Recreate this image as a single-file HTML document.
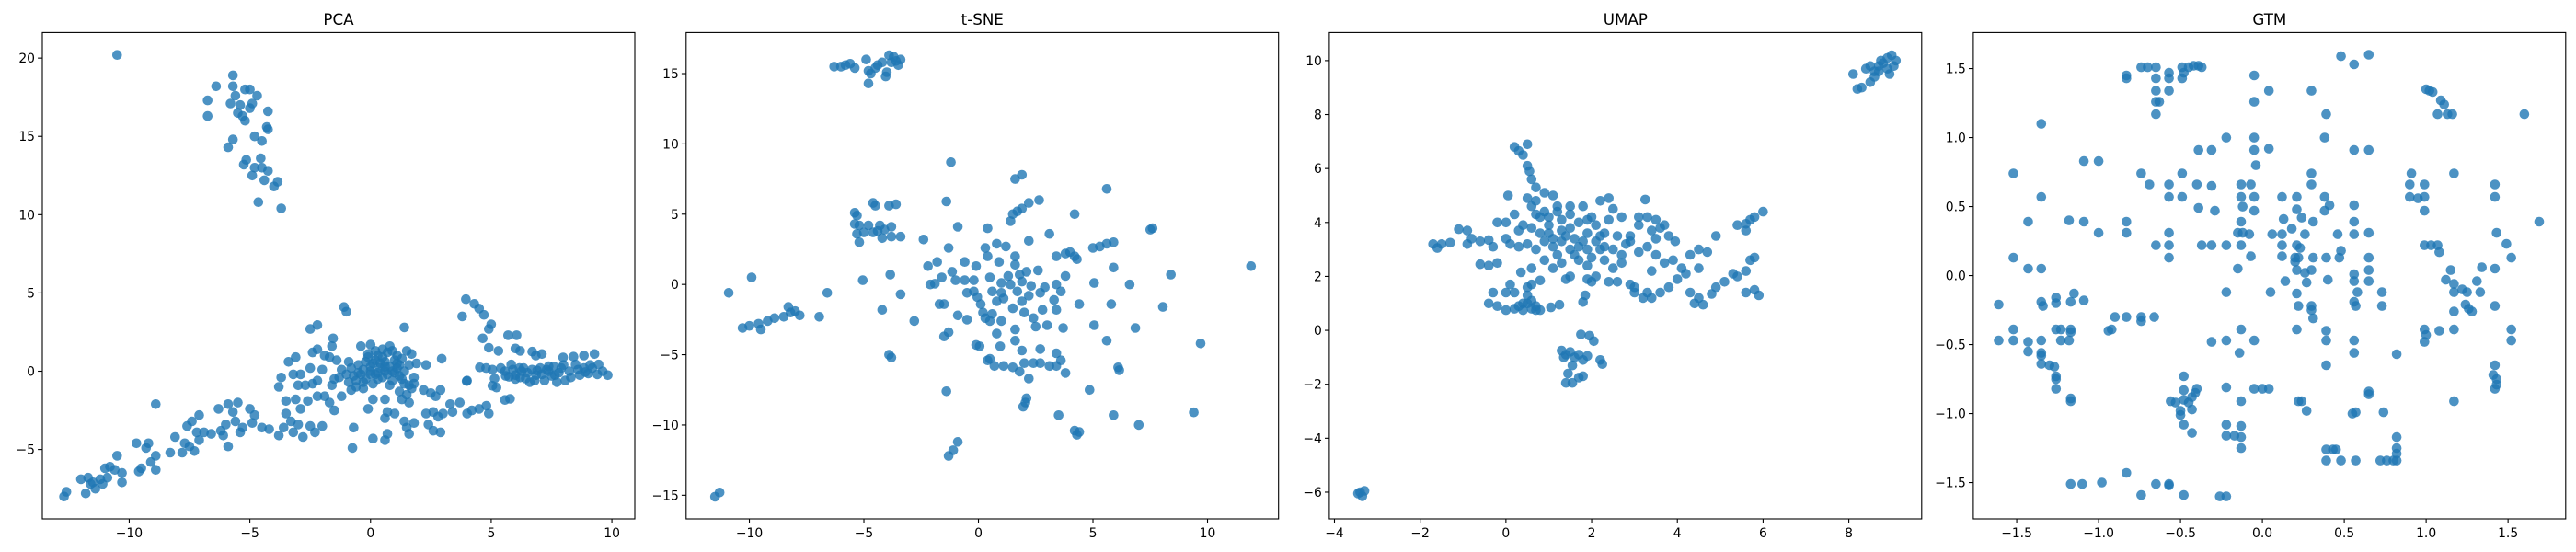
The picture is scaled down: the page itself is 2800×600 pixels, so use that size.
<!DOCTYPE html>
<html><head><meta charset="utf-8"><style>
html,body{margin:0;padding:0;background:#fff;}
svg{display:block;font-family:"DejaVu Sans","Liberation Sans",sans-serif;}
</style></head><body>
<svg id="fig" width="2800" height="600" viewBox="0 0 2800 600" xmlns="http://www.w3.org/2000/svg"></svg>
<script>
// ---------- data ----------
const pcaX=[-10.5,-5.7,-6.4,-6.75,-6.75,-5.7,-5.2,-5.0,-5.6,-4.7,-5.8,-5.4,-4.9,-5.0,-5.5,-5.3,-5.2,-4.25,-4.3,-4.25,-4.8,-4.5,-5.7,-5.9,-4.55,-5.15,-5.25,-4.8,-4.5,-4.25,-4.9,-4.4,-3.85,-4.0,-4.65,-3.7,
3.95,4.3,4.5,4.7,3.8,5.0,4.9,4.65,4.9,5.3,5.7,6.05,6.0,6.2,6.7,7.1,6.85,
4.53,4.79,5.05,5.4,5.57,5.83,6.0,6.26,6.43,6.69,6.86,7.03,7.21,7.38,7.64,7.9,7.98,8.07,8.24,8.5,8.67,8.84,9.02,9.19,9.28,9.45,9.62,9.83,8.41,8.84,7.38,6.34,6.6,5.74,5.14,5.05,5.22,3.98,5.57,5.78,6.17,7.72,6.5,6.9,7.5,7.8,8.3,8.9,9.4,6.2,5.9,7.1,
-0.5,-0.3,0,0.2,0.4,0.6,0.8,1.0,1.2,1.4,-0.2,0.1,0.5,0.9,1.3,-0.7,-0.9,-0.6,-0.3,0.3,0.7,1.1,-0.1,-0.4,0.0,0.8,1.5,1.7,1.9,1.8,2.3,1.6,-1.0,-1.2,-1.5,-1.6,-1.4,-1.7,-1.6,-1.55,-1.9,-2.2,-2.4,0.2,0.5,1.0,-0.8,-0.4,0.3,0.7,1.1,
-1.1,-1.0,-2.5,-2.2,1.4,2.95,-3.4,-3.1,-3.7,-3.8,-3.2,-2.5,-2.9,-2.0,-2.2,-2.4,-3.0,-2.7,-1.9,-1.7,-2.2,-2.6,-3.5,-3.1,-2.9,-1.5,-1.2,-0.7,-0.75,0.1,0.6,0.7,-0.1,0.1,0.6,0.6,0.7,1.0,1.2,1.5,1.3,1.6,1.7,1.8,2.2,2.5,2.9,2.7,2.3,2.6,2.8,3.0,2.4,2.6,2.9,1.4,1.5,1.6,1.8,3.4,3.3,3.7,4.0,4.2,4.5,4.8,4.9,4.0,
-3.5,-3.3,-3.6,-3.8,-3.2,-3.0,-2.8,-2.5,-2.3,-2.0,-4.2,-4.5,-4.9,-5.0,-4.8,-5.3,-5.4,-5.6,-5.7,-5.5,-5.9,-6.0,-6.1,-6.3,-6.2,-5.9,-6.6,-6.9,-7.1,-7.2,-7.1,-7.4,-7.6,-7.7,-7.8,-7.3,-7.5,-8.1,-8.3,-8.9,-8.9,-8.9,-9.1,-9.2,-9.3,-9.5,-9.6,-9.7,-10.3,-10.3,-10.5,-10.6,-10.8,-11.0,-11.1,-11.2,-11.4,-11.6,-11.7,-11.8,-12.0,-12.6,-12.7,-10.9,-11.5,
-0.2,0.1,0.4,0.6,0.9,1.2,0.3,0,-0.3,-0.6,0.5,0.9,1.3,1.6,-0.1,0.2,-0.5,0.8,1.4,-0.8,1.1,0.6,-0.9,-1.3,0.0,6.0,6.8,7.3,8.0,8.6,9.1,7.6,5.6];
const pcaY=[20.2,18.9,18.2,17.3,16.3,18.2,18.0,18.0,17.6,17.6,17.1,17.0,17.1,16.8,16.5,16.3,16.0,16.6,15.6,15.45,15.0,14.7,14.8,14.3,13.6,13.5,13.2,13.0,13.0,12.8,12.5,12.2,12.1,11.8,10.8,10.4,
4.6,4.3,4.0,3.6,3.5,3.0,2.7,2.1,1.5,1.3,2.3,2.3,1.45,1.3,1.25,1.1,1.0,
0.25,0.2,0.1,0.2,0,0.43,-0.25,0,-0.47,0.1,-0.25,0.2,-0.59,0,-0.25,0.2,0.88,-0.59,0,0.43,-0.25,0.2,-0.14,0.2,1.1,0.43,0,-0.25,0.93,1.0,0.32,0.2,-0.7,-0.36,-0.47,-0.93,-1.04,-0.63,-1.83,-1.76,0.2,-0.7,-0.1,0.05,-0.3,-0.1,-0.4,-0.05,-0.2,-0.4,0.1,-0.2,
0.4,0.1,0.3,-0.2,0.5,0,0.3,-0.1,0.4,0,-0.5,-0.8,-0.4,-0.6,-0.5,-0.3,-0.7,-1.0,-1.1,1.0,1.2,1.0,1.1,1.6,1.7,1.6,1.3,1.1,0.5,-0.4,0.4,-0.9,-0.2,0.1,-0.5,-0.9,0.7,0.9,1.6,2.1,1.0,1.4,1.2,0.7,0.9,0.7,0.2,-0.2,-0.1,-0.2,0.2,
4.1,3.8,2.7,2.95,2.8,0.8,0.6,0.9,-0.4,-1.0,-0.2,0.2,-0.2,0.1,-0.6,-0.8,-0.9,-0.9,-1.6,-2.0,-1.6,-1.9,-1.9,-1.8,-2.4,-2.5,-1.6,-3.6,-4.9,-4.3,-4.4,-4.0,-2.4,-1.8,-1.8,-3.0,-2.6,-2.7,-1.3,-1.5,-1.8,-2.0,-1.1,-0.8,-1.2,-1.4,-1.2,-1.6,-2.7,-2.6,-2.9,-2.7,-3.4,-3.8,-3.9,-3.2,-3.6,-4.0,-3.3,-2.6,-2.1,-2.0,-2.7,-2.5,-2.4,-2.2,-2.7,-0.6,
-2.7,-3.2,-3.6,-4.1,-3.9,-3.4,-4.2,-3.5,-3.9,-3.5,-3.7,-3.6,-3.3,-2.4,-2.8,-3.6,-3.9,-3.2,-2.6,-2.0,-2.1,-3.4,-4.1,-2.4,-3.8,-4.8,-4.0,-3.9,-4.4,-3.9,-2.8,-3.2,-3.5,-4.6,-5.2,-5.1,-4.8,-4.2,-5.2,-2.1,-5.4,-6.3,-5.8,-4.6,-4.9,-6.2,-6.4,-4.6,-6.5,-7.1,-5.4,-6.3,-6.1,-6.2,-7.2,-6.9,-7.5,-7.2,-6.8,-7.8,-6.9,-7.7,-8.0,-6.8,-7.1,
0.6,0.5,0.2,0.6,0.0,-0.3,-0.5,-0.2,-0.7,-0.6,1.4,1.3,0.8,0.4,0.9,1.3,-0.1,-0.9,-0.8,-1.2,0.5,0.3,0.6,-0.4,0.0,-0.5,-0.6,0.1,0.4,0.1,0.4,0.3,-0.3];

const tsneX=[-6.3,-6.0,-5.8,-5.6,-5.4,-4.9,-4.8,-4.7,-4.8,-4.5,-4.2,-4.0,-4.05,-3.9,-3.7,-3.8,-3.6,-3.4,-3.5,-4.4,
-9.9,-10.9,-10.3,-10.0,-9.6,-9.5,-9.2,-8.9,-8.5,-8.3,-8.2,-8.0,-7.8,-6.95,-6.6,-11.5,-11.3,
-5.4,-5.3,-5.4,-5.2,-5.0,-5.2,-5.3,-4.8,-4.6,-4.5,-4.6,-4.3,-4.2,-4.1,-3.8,-3.8,-3.9,-3.6,-3.4,-4.4,-5.05,-3.85,-3.4,-4.2,-2.8,-3.9,-3.8,-2.4,-2.2,-1.8,-2.1,-1.9,-1.7,-1.5,-1.6,-1.5,-1.3,-1.4,-1.4,-1.3,-1.2,-1.15,-1.0,-0.9,-0.9,-0.5,-0.6,-0.6,-0.5,-0.2,-0.2,-0.1,-0.1,0.05,-1.3,-1.1,-0.9,0.1,-0.05,0.2,
0.3,0.4,0.4,0.5,0.6,0.6,0.5,0.3,0.8,0.8,0.8,0.9,1.0,1.0,1.0,1.1,1.2,1.3,1.4,1.5,1.6,1.6,1.6,1.7,1.8,1.9,1.9,2.0,2.1,2.2,2.3,2.4,2.5,2.6,2.7,2.8,2.9,3.0,3.3,3.4,3.4,3.6,3.7,3.8,1.6,1.9,1.4,1.5,1.7,1.9,2.2,2.65,2.2,3.1,3.4,3.8,4.0,4.2,4.3,4.2,4.4,5.05,5.05,5.0,5.3,5.6,5.9,5.9,5.6,5.8,5.6,6.6,6.85,7.5,7.6,8.05,8.4,9.7,11.9,6.1,6.15,4.85,5.9,7.0,9.4,4.2,4.3,4.4,3.5,3.8,2.2,2.1,1.95,2.05,1.8,2.0,2.4,2.7,3.1,3.4,3.6,3.4,2.7,1.9,1.6,1.1,0.7,0.5,0.4,0.95,1.5];
const tsneY=[15.5,15.5,15.6,15.7,15.4,16.0,15.2,15.0,14.3,15.4,15.8,15.1,14.8,16.3,16.2,15.8,15.9,16.0,15.6,15.6,
0.5,-0.6,-3.1,-2.95,-2.8,-3.2,-2.6,-2.4,-2.3,-1.6,-2.0,-1.9,-2.2,-2.3,-0.6,-15.1,-14.8,
5.1,4.9,4.3,4.2,3.7,3.0,3.6,4.2,3.7,5.6,5.8,4.2,3.3,3.9,4.1,3.4,5.6,5.7,3.4,3.8,0.3,0.7,-0.7,-1.8,-2.6,-5.0,-5.2,3.2,1.3,1.6,0,0.05,-1.4,-1.4,0.5,-3.7,-3.4,-7.6,5.9,2.6,8.7,0.9,0.3,4.1,-2.2,-2.5,1.6,0.3,-0.6,0.3,-0.5,1.3,-4.3,-4.4,-12.2,-11.8,-11.2,-1.4,-0.9,-2.0,
2.6,2.0,4.0,0.5,-0.5,-2.1,-2.6,-2.4,2.9,-1.2,-3.5,1.6,0.1,-0.6,-2.6,-1.0,2.7,0.6,0,-1.7,2.0,1.4,-3.2,-0.5,0.7,-1.2,0.2,-2.0,0.9,-0.8,-0.1,-2.4,-3.0,1.0,-0.6,-1.8,-0.2,-2.9,-1.1,-1.8,0,-0.5,-3.1,0.6,7.5,7.8,4.5,5.0,5.2,5.4,5.8,6.0,3.1,3.6,2.0,2.2,2.3,2.0,1.8,5.0,-1.4,0.1,-2.9,2.6,2.7,2.9,3.0,1.2,6.8,-1.4,-4.0,0,-3.1,3.9,4.0,-1.6,0.7,-4.2,1.3,-5.9,-6.1,-7.5,-9.3,-10.0,-9.1,-10.4,-10.7,-10.5,-9.3,-6.3,-6.7,-8.1,-8.7,-8.4,-6.2,-5.6,-5.6,-5.6,-5.8,-5.8,-5.4,-4.9,-4.6,-4.7,-4.0,-5.8,-5.8,-5.3,-5.4,-4.4,-5.9];

const umapX=[8.1,8.2,8.3,8.4,8.5,8.6,8.5,8.7,8.8,8.9,9.0,9.1,8.95,9.05,8.75,
-3.45,-3.35,-3.3,-3.4,
1.3,1.4,1.5,1.6,1.7,1.8,1.9,1.55,1.45,1.4,1.55,1.7,1.8,1.75,1.95,2.05,2.2,2.25,1.35,
0.2,0.3,0.4,0.5,0.5,0.55,0.6,0.7,0.9,1.1,0.5,0.6,0.7,0.05,0.9,1.2,1.5,1.8,2.0,2.2,2.4,2.5,2.7,3.1,3.25,3.3,3.5,0.0,-0.2,0.2,0.4,0.6,0.8,1.0,1.3,1.5,1.7,1.9,2.1,2.3,2.6,2.9,3.1,3.4,3.6,3.8,3.95,-1.1,-0.9,-0.8,-0.6,-0.4,-0.3,-0.9,-1.7,-1.5,-1.3,-1.6,0.0,0.1,0.3,0.5,0.7,0.9,1.1,1.3,1.5,1.7,1.9,2.1,2.3,2.5,2.7,2.9,3.1,3.3,3.5,3.7,3.9,4.1,4.3,4.5,4.7,4.9,-0.6,-0.4,-0.2,0.35,0.6,0.9,1.1,1.3,1.5,1.7,1.9,2.1,2.3,2.5,2.7,1.4,1.9,2.0,2.4,2.6,2.9,3.0,3.2,3.4,3.6,3.8,4.0,4.2,4.5,3.4,0.1,0.0,-0.3,-0.4,-0.2,0.0,0.2,0.4,0.5,0.6,0.4,0.7,0.8,0.6,0.8,1.05,1.25,1.8,1.85,4.3,4.4,4.6,4.5,4.8,4.9,5.1,5.3,5.4,5.6,5.7,5.8,5.6,5.8,5.9,5.4,5.6,5.7,5.8,6.0,5.6,0.3,1.2,1.0,1.6,2.2,2.8,
1.0,1.1,1.3,1.5,1.6,1.8,2.0,2.2,0.8,1.2,1.4,0.7,1.9,2.4,3.5,3.7,0.5,0.6,0.3,0.7,0.2,0.5,3.0,3.3,8.7,8.9,8.6];
const umapY=[9.5,8.95,9.0,9.7,9.8,9.4,9.2,9.6,9.9,10.1,10.2,10.0,9.5,9.8,10.0,
-6.05,-6.15,-5.95,-6.0,
-0.75,-0.9,-0.8,-1.0,-0.9,-1.1,-0.95,-1.3,-1.6,-1.95,-1.95,-1.75,-1.7,-0.15,-0.2,-0.4,-1.1,-1.25,-1.0,
6.8,6.65,6.5,6.9,6.1,5.9,5.6,5.3,5.1,5.0,4.9,4.6,4.8,5.0,4.4,4.6,4.6,4.6,4.2,4.8,4.9,4.5,4.2,4.2,4.85,4.2,4.1,4.0,4.0,4.3,3.9,3.8,4.2,3.9,4.1,3.8,4.0,3.6,3.9,3.6,3.5,3.5,3.9,3.7,3.8,3.5,3.3,3.75,3.7,3.4,3.3,3.35,3.1,3.2,3.2,3.2,3.25,3.05,3.4,3.2,3.1,3.2,3.0,3.3,3.1,3.3,3.0,3.1,3.0,3.3,3.1,3.0,2.8,3.3,2.9,3.1,2.8,2.5,2.6,2.3,2.8,3.0,2.9,3.5,2.45,2.4,2.5,2.15,2.3,2.6,2.3,2.5,2.0,2.6,2.4,2.0,2.6,2.3,2.5,1.9,1.9,1.8,1.8,1.8,1.7,1.4,1.2,1.2,1.4,1.6,1.9,2.1,2.3,2.2,1.7,1.4,1.4,1.0,0.9,0.75,0.8,1.0,1.3,0.8,0.75,0.75,0.75,1.7,1.85,0.85,0.95,1.05,1.3,1.4,1.0,0.95,1.2,1.35,1.6,1.8,2.1,2.0,2.2,2.6,2.7,1.4,1.5,1.3,3.9,3.95,4.1,4.2,4.4,3.7,3.7,4.4,3.6,3.4,3.5,3.2,
4.2,3.4,3.7,4.3,2.8,3.3,2.7,3.0,3.6,2.8,3.5,4.3,4.1,4.1,3.4,3.9,1.0,1.1,0.9,0.9,1.4,1.6,1.6,1.4,9.8,9.7,9.6];

const gtmX=[-0.74,-0.7,-0.65,-0.65,-0.65,-0.65,-0.65,-0.63,-0.57,-0.57,-0.57,-0.49,-0.48,-0.49,-0.45,-0.42,-0.39,-0.37,-0.83,-0.83,-0.05,-0.05,0.04,0.3,0.39,0.48,0.56,0.65,1.0,1.02,1.04,1.07,1.09,1.11,1.13,1.16,1.6,-1.35,-0.22,-0.05,0.38,-0.39,-0.31,-0.05,0.04,0.56,0.65,-1.09,-1.0,-0.04,-1.52,-0.74,-0.49,0.3,0.91,1.17,-0.69,-0.57,-0.4,-0.31,-0.13,-0.07,0.3,0.9,0.99,1.42,-1.35,-0.57,-0.49,-0.13,-0.05,0.12,0.21,0.38,0.9,0.95,0.99,1.42,-0.39,-0.29,-0.12,-0.05,0.21,0.24,0.38,0.41,0.56,0.99,-1.43,-1.18,-1.09,-0.83,-0.13,0.13,0.31,0.56,1.69,-1.0,-0.83,-0.57,-0.15,-0.12,-0.08,0.06,0.12,0.18,0.26,0.46,0.56,0.65,1.43,-0.65,-0.57,-0.37,-0.31,-0.22,-0.13,0.12,0.21,0.23,0.99,1.03,1.07,1.08,1.49,-1.52,-0.57,-0.07,0.12,0.2,0.22,0.31,0.39,0.47,0.48,0.65,1.52,-1.43,-1.35,-0.15,0.2,0.21,0.26,0.3,0.56,0.65,1.15,1.34,1.42,0.14,0.27,0.4,0.56,0.65,1.12,1.17,1.31,-1.61,-1.35,-1.34,-1.26,-1.26,-1.15,-1.17,-1.09,-0.22,0.05,0.21,0.58,0.73,1.17,1.25,1.33,1.22,0.22,0.3,0.3,0.31,0.56,0.57,0.73,1.24,1.17,1.26,1.28,1.42,-0.9,-0.83,-0.74,-0.74,-0.66,-1.52,-1.26,-1.23,-1.17,-1.17,-0.92,-0.94,-0.13,0.21,0.39,0.99,1.0,1.08,1.17,1.52,-1.61,-1.52,-1.43,-1.35,-1.23,-1.18,-0.31,-0.22,-0.05,0.39,0.56,0.99,1.52,-1.43,-1.35,-1.35,-0.14,0.56,0.82,-1.35,-1.3,-1.27,-1.26,-1.26,-1.26,0.39,1.42,1.41,1.43,1.43,1.42,-0.48,-0.48,-0.48,-0.4,-0.41,-0.56,-0.53,-0.45,-0.43,-0.5,-0.43,-0.5,-0.48,-0.43,-1.17,-1.17,-0.22,-0.05,0.0,0.04,-0.13,0.22,0.24,0.65,0.65,1.17,0.27,0.55,0.57,0.74,-0.22,-0.13,-0.22,-0.17,-0.13,-0.13,0.39,0.43,0.45,0.39,0.48,0.57,0.72,0.76,0.8,0.82,0.82,0.82,0.82,-0.83,-1.17,-1.1,-0.98,-0.65,-0.57,-0.57,-0.74,-0.48,-0.26,-0.22];
const gtmY=[1.51,1.51,1.51,1.43,1.34,1.26,1.17,1.26,1.47,1.43,1.34,1.51,1.47,1.43,1.51,1.52,1.52,1.51,1.45,1.43,1.45,1.26,1.34,1.34,1.17,1.59,1.53,1.6,1.35,1.34,1.33,1.17,1.27,1.24,1.17,1.17,1.17,1.1,1.0,1.0,1.0,0.91,0.91,0.91,0.92,0.91,0.91,0.83,0.83,0.8,0.74,0.74,0.74,0.74,0.74,0.74,0.66,0.66,0.66,0.65,0.66,0.66,0.66,0.66,0.66,0.66,0.57,0.57,0.57,0.57,0.57,0.57,0.57,0.57,0.57,0.56,0.57,0.57,0.49,0.47,0.5,0.47,0.48,0.42,0.47,0.51,0.51,0.47,0.39,0.4,0.39,0.39,0.39,0.41,0.39,0.39,0.39,0.31,0.31,0.31,0.31,0.31,0.3,0.3,0.3,0.34,0.3,0.3,0.3,0.31,0.31,0.22,0.22,0.22,0.22,0.22,0.22,0.22,0.22,0.2,0.22,0.22,0.22,0.17,0.23,0.13,0.13,0.14,0.14,0.13,0.13,0.13,0.13,0.13,0.18,0.13,0.13,0.05,0.05,0.05,0.1,0.04,0.02,0.04,0.01,0.04,0.04,0.06,0.05,-0.04,-0.05,-0.03,-0.04,-0.04,-0.03,-0.06,-0.04,-0.21,-0.19,-0.22,-0.2,-0.16,-0.13,-0.19,-0.18,-0.12,-0.12,-0.13,-0.12,-0.12,-0.12,-0.12,-0.12,-0.1,-0.22,-0.22,-0.25,-0.31,-0.19,-0.22,-0.22,-0.21,-0.26,-0.24,-0.26,-0.22,-0.3,-0.3,-0.3,-0.33,-0.3,-0.39,-0.39,-0.39,-0.39,-0.41,-0.39,-0.4,-0.39,-0.39,-0.4,-0.39,-0.43,-0.4,-0.39,-0.39,-0.47,-0.47,-0.48,-0.47,-0.47,-0.47,-0.48,-0.47,-0.47,-0.47,-0.47,-0.48,-0.47,-0.55,-0.56,-0.58,-0.56,-0.56,-0.57,-0.64,-0.65,-0.66,-0.73,-0.75,-0.82,-0.65,-0.65,-0.72,-0.75,-0.79,-0.82,-0.73,-0.83,-0.9,-0.82,-0.85,-0.91,-0.92,-0.92,-0.88,-0.98,-0.97,-1.01,-1.08,-1.14,-0.91,-0.89,-0.81,-0.82,-0.82,-0.82,-0.91,-0.91,-0.91,-0.84,-0.86,-0.91,-0.98,-1.0,-0.99,-0.99,-1.08,-1.09,-1.16,-1.16,-1.17,-1.25,-1.26,-1.26,-1.26,-1.34,-1.34,-1.34,-1.34,-1.34,-1.34,-1.34,-1.29,-1.25,-1.17,-1.43,-1.51,-1.51,-1.5,-1.51,-1.51,-1.52,-1.59,-1.59,-1.6,-1.6];

const pcaXTicks=[-10,-5,0,5,10], pcaYTicks=[-5,0,5,10,15,20];
const tsneXTicks=[-10,-5,0,5,10], tsneYTicks=[-15,-10,-5,0,5,10,15];
const umapXTicks=[-4,-2,0,2,4,6,8], umapYTicks=[-6,-4,-2,0,2,4,6,8,10];
const gtmXTicks=[-1.5,-1.0,-0.5,0.0,0.5,1.0,1.5], gtmYTicks=[-1.5,-1.0,-0.5,0.0,0.5,1.0,1.5];
const titles=["PCA","t-SNE","UMAP","GTM"];

// ---------- layout ----------
const NS="http://www.w3.org/2000/svg";
const svg=document.getElementById('fig');
const TOP=35.4,BOT=564;
const panels=[
 {name:'pca',l:46,r:690,xd:[-13.6,10.95],yd:[-9.43,21.63],xs:pcaX,ys:pcaY,xt:pcaXTicks,yt:pcaYTicks,dec:0},
 {name:'tsne',l:745.8,r:1389.7,xd:[-12.76,13.1],yd:[-16.68,17.92],xs:tsneX,ys:tsneY,xt:tsneXTicks,yt:tsneYTicks,dec:0},
 {name:'umap',l:1444.9,r:2088.8,xd:[-4.12,9.7],yd:[-6.99,11.04],xs:umapX,ys:umapY,xt:umapXTicks,yt:umapYTicks,dec:0},
 {name:'gtm',l:2144.9,r:2788.8,xd:[-1.765,1.852],yd:[-1.763,1.761],xs:gtmX,ys:gtmY,xt:gtmXTicks,yt:gtmYTicks,dec:1}
];
function mk(tag,attrs,parent){const e=document.createElementNS(NS,tag);for(const k in attrs)e.setAttribute(k,attrs[k]);(parent||svg).appendChild(e);return e;}
function fmt(v,d){const s=Math.abs(v).toFixed(d);return (v<0?'\u2212':'')+s;}

panels.forEach((p,i)=>{
  const g=mk('g',{});
  
  
  const sx=v=>p.l+(v-p.xd[0])/(p.xd[1]-p.xd[0])*(p.r-p.l);
  const sy=v=>BOT-(v-p.yd[0])/(p.yd[1]-p.yd[0])*(BOT-TOP);
  const cx=(p.l+p.r)/2;
  const t=mk('text',{x:cx,y:27,'text-anchor':'middle','font-size':'16.7',fill:'#000'},g);
  t.textContent=titles[i];
  
  
  const pts=mk('g',{fill:'#1f77b4','fill-opacity':'0.8'},g);
  
  
  for(let k=0;k<p.xs.length;k++){
    const c=mk('circle',{cx:sx(p.xs[k]).toFixed(1),cy:sy(p.ys[k]).toFixed(1),r:5.3},pts);
    
    
  }
  const fr=mk('rect',{x:p.l,y:TOP,width:p.r-p.l,height:BOT-TOP,fill:'none',stroke:'#000','stroke-width':1.1},g);
  
  
  const xa=mk('g',{},g);
  
  
  p.xt.forEach(v=>{
    const x=sx(v);
    mk('line',{x1:x,x2:x,y1:BOT,y2:BOT+4.9,stroke:'#000','stroke-width':1.1},xa);
    const tl=mk('text',{x:x,y:BOT+20,'text-anchor':'middle','font-size':'13.9',fill:'#000'},xa);
    tl.textContent=fmt(v,p.dec);
    
    
  });
  const ya=mk('g',{},g);
  
  
  p.yt.forEach(v=>{
    const y=sy(v);
    mk('line',{x1:p.l-4.9,x2:p.l,y1:y,y2:y,stroke:'#000','stroke-width':1.1},ya);
    const tl=mk('text',{x:p.l-8,y:y+5,'text-anchor':'end','font-size':'13.9',fill:'#000'},ya);
    tl.textContent=fmt(v,p.dec);
    
    
  });
});
</script>
</body></html>
